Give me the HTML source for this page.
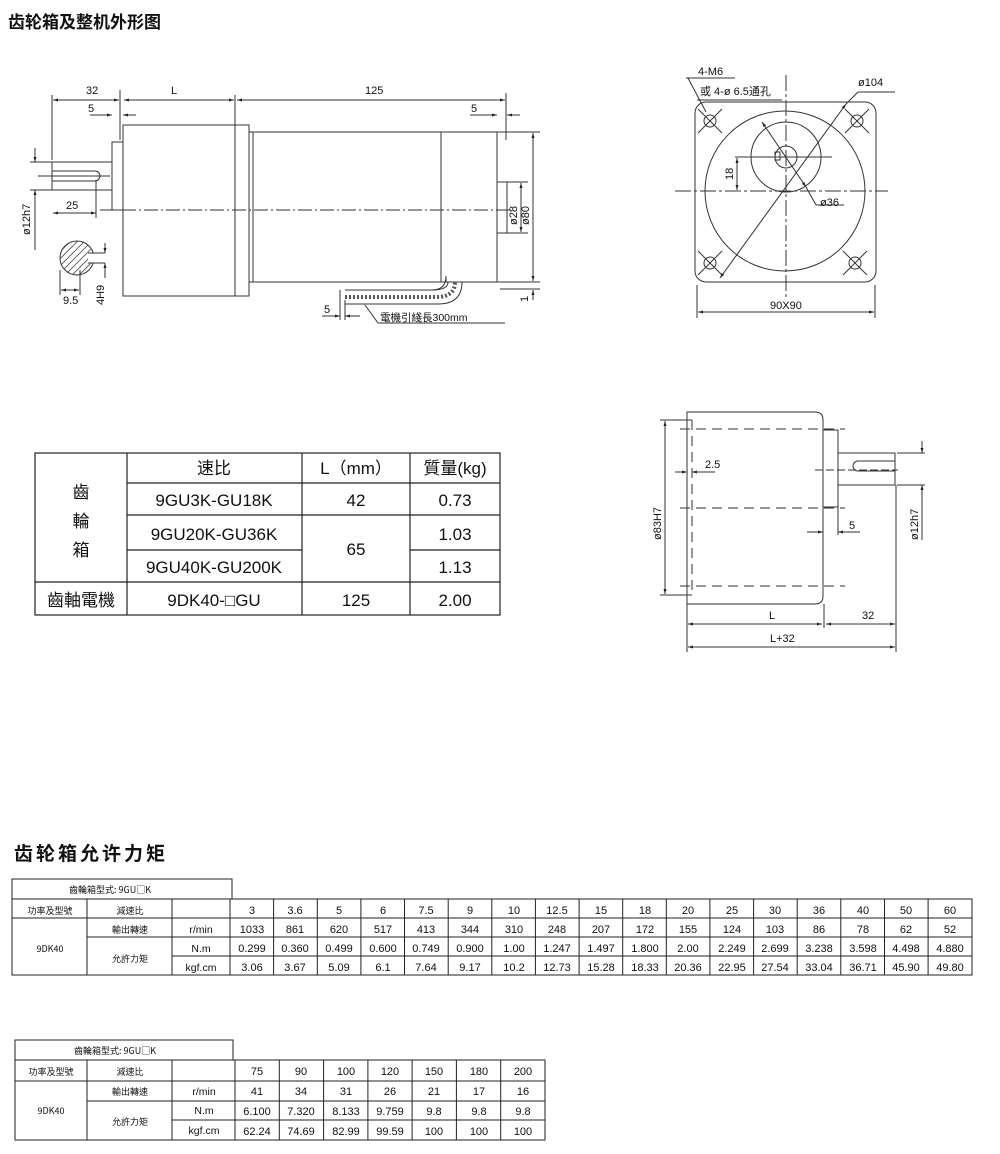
<!DOCTYPE html>
<html><head><meta charset="utf-8"><style>
html,body{margin:0;padding:0;background:#fff;}
svg{display:block;font-family:"Liberation Sans","Noto Sans CJK SC",sans-serif;}
</style></head><body>
<svg width="1000" height="1154" viewBox="0 0 1000 1154" xmlns="http://www.w3.org/2000/svg">
<defs>
<marker id="a" viewBox="0 0 10 10" refX="10" refY="5" markerWidth="7" markerHeight="5" orient="auto-start-reverse"><path d="M0,2 L10,5 L0,8 z" fill="#222"/></marker>
<pattern id="h" width="5" height="5" patternUnits="userSpaceOnUse" patternTransform="rotate(45)"><line x1="0" y1="0" x2="0" y2="5" stroke="#333" stroke-width="1.5"/></pattern>
</defs>
<g fill="#111">
<text x="8" y="28" font-size="17" font-weight="bold" font-family="'Noto Sans CJK SC',sans-serif">齿轮箱及整机外形图</text>
<text x="14" y="860" font-size="19" font-weight="bold" letter-spacing="3" font-family="'Noto Sans CJK SC',sans-serif">齿轮箱允许力矩</text>
</g>

<!-- LEFT DRAWING -->
<g stroke="#333" stroke-width="1" fill="none">
<rect x="123" y="125" width="112" height="171"/>
<rect x="235" y="125" width="14" height="171"/>
<rect x="249" y="132" width="248" height="150"/>
<line x1="253" y1="132" x2="253" y2="282"/>
<line x1="441" y1="132" x2="441" y2="282"/>
<rect x="497" y="182" width="10" height="51"/>
<rect x="112" y="142" width="11" height="68"/>
<rect x="52" y="162" width="60" height="28"/>
<path d="M52,171 H95 A5,5 0 0 1 95,181 H52"/>
<line x1="38" y1="176" x2="110" y2="176"/>
<line x1="100" y1="210" x2="510" y2="210" stroke-dasharray="14,3,2,3"/>
<!-- dims -->
<line x1="52" y1="95" x2="52" y2="160"/><line x1="120" y1="90" x2="120" y2="140"/>
<line x1="235" y1="95" x2="235" y2="125"/><line x1="506" y1="93" x2="506" y2="140"/>
<line x1="53" y1="100" x2="119" y2="100" marker-start="url(#a)" marker-end="url(#a)"/>
<line x1="124" y1="100" x2="234" y2="100" marker-start="url(#a)" marker-end="url(#a)"/>
<line x1="237" y1="100" x2="505" y2="100" marker-start="url(#a)" marker-end="url(#a)"/>
<line x1="90" y1="115" x2="112" y2="115" marker-end="url(#a)"/><line x1="136" y1="115" x2="123" y2="115" marker-end="url(#a)"/>
<line x1="470" y1="115" x2="497" y2="115" marker-end="url(#a)"/><line x1="520" y1="115" x2="507" y2="115" marker-end="url(#a)"/>
<line x1="53" y1="213" x2="96" y2="213" marker-start="url(#a)" marker-end="url(#a)"/>
<line x1="96" y1="180" x2="96" y2="218"/>
<line x1="30" y1="162" x2="52" y2="162"/><line x1="30" y1="190" x2="52" y2="190"/>
<line x1="35" y1="148" x2="35" y2="162" marker-end="url(#a)"/><line x1="35" y1="250" x2="35" y2="190" marker-end="url(#a)"/>
<line x1="507" y1="182" x2="528" y2="182"/><line x1="507" y1="233" x2="528" y2="233"/>
<line x1="521" y1="183" x2="521" y2="232" marker-start="url(#a)" marker-end="url(#a)"/>
<line x1="497" y1="132" x2="540" y2="132"/><line x1="497" y1="282" x2="540" y2="282"/>
<line x1="533" y1="133" x2="533" y2="281" marker-start="url(#a)" marker-end="url(#a)"/>
<line x1="500" y1="289" x2="540" y2="289"/>
<line x1="533" y1="300" x2="533" y2="290" marker-end="url(#a)"/>
<!-- section -->
<circle cx="77" cy="258" r="17" fill="url(#h)"/>
<rect x="88" y="253" width="7" height="10" fill="#fff" stroke="none"/>
<line x1="88" y1="253" x2="105" y2="253"/><line x1="88" y1="263" x2="105" y2="263"/>
<line x1="105" y1="243" x2="105" y2="253" marker-end="url(#a)"/><line x1="105" y1="278" x2="105" y2="263" marker-end="url(#a)"/>
<line x1="60" y1="270" x2="60" y2="295"/><line x1="80" y1="270" x2="80" y2="295"/>
<line x1="61" y1="290" x2="79" y2="290" marker-start="url(#a)" marker-end="url(#a)"/>
<!-- cable -->
<path d="M345,290 H432 Q446,290 446,276 V282" stroke-width="1"/>
<path d="M345,297 H436 Q455,297 455,282" stroke="#555" stroke-width="4" stroke-dasharray="2,2"/>
<path d="M345,304 H438 Q462,304 462,282" />
<path d="M345,290 H432 Q448,290 448,282"/>
<line x1="340" y1="290" x2="340" y2="320"/><line x1="345" y1="300" x2="345" y2="320"/>
<line x1="322" y1="316" x2="340" y2="316" marker-end="url(#a)"/><line x1="360" y1="316" x2="345" y2="316" marker-end="url(#a)"/>
<line x1="365" y1="305" x2="378" y2="323"/><line x1="378" y1="323" x2="505" y2="323"/>
</g>
<g font-size="11" fill="#111">
<text x="86" y="94">32</text><text x="171" y="94">L</text><text x="365" y="94">125</text>
<text x="88" y="112">5</text><text x="471" y="112">5</text>
<text x="66" y="209">25</text>
<text x="63" y="304">9.5</text>
<text transform="translate(30,235) rotate(-90)">ø12h7</text>
<text transform="translate(104,305) rotate(-90)">4H9</text>
<text transform="translate(517,225) rotate(-90)">ø28</text>
<text transform="translate(529,225) rotate(-90)">ø80</text>
<text transform="translate(528,302) rotate(-90)">1</text>
<text x="324" y="313">5</text>
<text x="380" y="321" font-size="10.5">電機引綫長300mm</text>
</g>

<!-- RIGHT TOP -->
<g stroke="#333" stroke-width="1" fill="none">
<rect x="695" y="102" width="181" height="180" rx="11"/>
<circle cx="785" cy="191" r="80"/>
<circle cx="786" cy="157" r="35"/>
<circle cx="786" cy="157" r="11"/>
<rect x="775" y="152" width="5" height="8"/>
<line x1="675" y1="191" x2="888" y2="191" stroke-dasharray="16,3,3,3"/>
<line x1="786" y1="75" x2="786" y2="300" stroke-dasharray="16,3,3,3"/>
<line x1="735" y1="157" x2="832" y2="157"/>
<line x1="737" y1="158" x2="737" y2="190" marker-start="url(#a)" marker-end="url(#a)"/>
<line x1="720" y1="278" x2="846" y2="104" marker-start="url(#a)" marker-end="url(#a)"/>
<line x1="846" y1="104" x2="858" y2="92"/><line x1="858" y1="92" x2="895" y2="92"/>
<line x1="762" y1="122" x2="806" y2="187" marker-start="url(#a)" marker-end="url(#a)"/>
<line x1="806" y1="187" x2="816" y2="205"/><line x1="816" y1="205" x2="844" y2="205"/>
<g id="hole"><circle cx="710" cy="121" r="6"/><line x1="698" y1="109" x2="722" y2="133"/><line x1="722" y1="109" x2="698" y2="133"/></g>
<use href="#hole" x="147"/><use href="#hole" y="142"/><use href="#hole" x="145" y="142"/>
<line x1="686" y1="78" x2="735" y2="78"/><line x1="688" y1="78" x2="706" y2="112"/>
<line x1="697" y1="100" x2="782" y2="100"/>
<line x1="697" y1="285" x2="697" y2="318"/><line x1="875" y1="285" x2="875" y2="318"/>
<line x1="698" y1="312" x2="874" y2="312" marker-start="url(#a)" marker-end="url(#a)"/>
</g>
<g font-size="11" fill="#111">
<text x="698" y="75">4-M6</text>
<text x="700" y="95" font-size="11">或 4-ø 6.5通孔</text>
<text x="858" y="86">ø104</text>
<text x="820" y="206">ø36</text>
<text transform="translate(733,180) rotate(-90)">18</text>
<text x="770" y="309">90X90</text>
</g>

<!-- RIGHT BOTTOM -->
<g stroke="#333" stroke-width="1" fill="none">
<path d="M687,412 H815 Q823,412 823,420 V596 Q823,604 815,604 H687 Z"/>
<rect x="823" y="430" width="15" height="77"/>
<rect x="838" y="453" width="57" height="32"/>
<path d="M895,461 H858 A5,5 0 0 0 858,471 H895"/>
<line x1="815" y1="470" x2="898" y2="470" stroke-dasharray="8,3"/>
<g stroke-dasharray="10,6"><line x1="680" y1="429" x2="845" y2="429"/><line x1="680" y1="508" x2="845" y2="508"/><line x1="680" y1="586" x2="845" y2="586"/><line x1="692" y1="420" x2="692" y2="596"/></g>
<line x1="660" y1="420" x2="692" y2="420"/><line x1="660" y1="595" x2="692" y2="595"/>
<line x1="665" y1="421" x2="665" y2="594" marker-start="url(#a)" marker-end="url(#a)"/>
<line x1="675" y1="472" x2="687" y2="472" marker-end="url(#a)"/><line x1="715" y1="472" x2="692" y2="472" marker-end="url(#a)"/>
<line x1="807" y1="532" x2="823" y2="532" marker-end="url(#a)"/><line x1="860" y1="532" x2="838" y2="532" marker-end="url(#a)"/>
<line x1="838" y1="507" x2="838" y2="535"/>
<line x1="897" y1="453" x2="925" y2="453"/><line x1="897" y1="485" x2="925" y2="485"/>
<line x1="922" y1="441" x2="922" y2="453" marker-end="url(#a)"/><line x1="922" y1="540" x2="922" y2="485" marker-end="url(#a)"/>
<line x1="687" y1="604" x2="687" y2="652"/><line x1="824" y1="604" x2="824" y2="628"/><line x1="896" y1="485" x2="896" y2="652"/>
<line x1="688" y1="624" x2="822" y2="624" marker-start="url(#a)" marker-end="url(#a)"/>
<line x1="826" y1="624" x2="895" y2="624" marker-start="url(#a)" marker-end="url(#a)"/>
<line x1="688" y1="647" x2="895" y2="647" marker-start="url(#a)" marker-end="url(#a)"/>
</g>
<g font-size="11" fill="#111">
<text x="705" y="468">2.5</text><text x="849" y="529">5</text>
<text transform="translate(661,540) rotate(-90)">ø83H7</text>
<text transform="translate(918,540) rotate(-90)">ø12h7</text>
<text x="769" y="619">L</text><text x="862" y="619">32</text><text x="770" y="642">L+32</text>
</g>

<!-- MIDDLE TABLE -->
<g stroke="#222" stroke-width="1.2" fill="none">
<rect x="35" y="453" width="465" height="162"/>
<line x1="127" y1="453" x2="127" y2="615"/>
<line x1="302" y1="453" x2="302" y2="615"/>
<line x1="410" y1="453" x2="410" y2="615"/>
<line x1="127" y1="483" x2="500" y2="483"/>
<line x1="127" y1="515" x2="500" y2="515"/>
<line x1="127" y1="550" x2="302" y2="550"/><line x1="410" y1="550" x2="500" y2="550"/>
<line x1="35" y1="582" x2="500" y2="582"/>
</g>
<g font-size="17" fill="#111" text-anchor="middle">
<text x="214" y="474" font-family="'Noto Sans CJK SC',sans-serif">速比</text>
<text x="356" y="474">L（mm）</text>
<text x="455" y="474">質量(kg)</text>
<text x="81" y="498" font-family="'Noto Sans CJK TC',sans-serif">齒</text>
<text x="81" y="527" font-family="'Noto Sans CJK TC',sans-serif">輪</text>
<text x="81" y="556" font-family="'Noto Sans CJK TC',sans-serif">箱</text>
<text x="214" y="506">9GU3K-GU18K</text><text x="356" y="506">42</text><text x="455" y="506">0.73</text>
<text x="214" y="540">9GU20K-GU36K</text><text x="356" y="555">65</text><text x="455" y="540">1.03</text>
<text x="214" y="573">9GU40K-GU200K</text><text x="455" y="573">1.13</text>
<text x="81" y="606" font-family="'Noto Sans CJK TC',sans-serif">齒軸電機</text>
<text x="214" y="606">9DK40-□GU</text><text x="356" y="606">125</text><text x="455" y="606">2.00</text>
</g>

<!-- TABLE 1 -->
<g stroke="#222" stroke-width="1" fill="none">
<rect x="12" y="879" width="220" height="20"/>
<rect x="12" y="899" width="960" height="76"/>
<line x1="12" y1="918" x2="972" y2="918"/>
<line x1="87" y1="937" x2="972" y2="937"/>
<line x1="172" y1="956" x2="972" y2="956"/>
<line x1="87" y1="899" x2="87" y2="975"/>
<line x1="172" y1="899" x2="172" y2="975"/>
<line x1="230" y1="899" x2="230" y2="975"/>
</g>
<g font-size="9" fill="#111" text-anchor="middle" font-family="'Noto Sans CJK TC',sans-serif">
<text x="110" y="893">齒輪箱型式:  9GU□K</text>
<text x="50" y="914">功率及型號</text><text x="130" y="914">減速比</text>
<text x="130" y="933">輸出轉速</text><text x="130" y="962">允許力矩</text>
<text x="50" y="952">9DK40</text>
</g>
<g font-size="10.5" fill="#111" text-anchor="middle">
<text x="201" y="933">r/min</text><text x="201" y="952">N.m</text><text x="201" y="971">kgf.cm</text>
</g>
<g id="t1" font-size="11" fill="#111" text-anchor="middle"></g>

<!-- TABLE 2 -->
<g stroke="#222" stroke-width="1" fill="none">
<rect x="15" y="1040" width="218" height="20"/>
<rect x="15" y="1060" width="530" height="80"/>
<line x1="15" y1="1081" x2="545" y2="1081"/>
<line x1="87" y1="1101" x2="545" y2="1101"/>
<line x1="172" y1="1120" x2="545" y2="1120"/>
<line x1="87" y1="1060" x2="87" y2="1140"/>
<line x1="172" y1="1060" x2="172" y2="1140"/>
<line x1="235" y1="1060" x2="235" y2="1140"/>
</g>
<g font-size="9" fill="#111" text-anchor="middle" font-family="'Noto Sans CJK TC',sans-serif">
<text x="115" y="1054">齒輪箱型式:  9GU□K</text>
<text x="51" y="1075">功率及型號</text><text x="130" y="1075">減速比</text>
<text x="130" y="1095">輸出轉速</text><text x="130" y="1125">允許力矩</text>
<text x="51" y="1114">9DK40</text>
</g>
<g font-size="10.5" fill="#111" text-anchor="middle">
<text x="204" y="1095">r/min</text><text x="204" y="1114">N.m</text><text x="204" y="1134">kgf.cm</text>
</g>
<g id="t2" font-size="11" fill="#111" text-anchor="middle"></g>

<g stroke="#222" stroke-width="1">
<!-- table1 columns -->
<line x1="273.6" y1="899" x2="273.6" y2="975"/><line x1="317.3" y1="899" x2="317.3" y2="975"/><line x1="360.9" y1="899" x2="360.9" y2="975"/><line x1="404.5" y1="899" x2="404.5" y2="975"/><line x1="448.2" y1="899" x2="448.2" y2="975"/><line x1="491.8" y1="899" x2="491.8" y2="975"/><line x1="535.4" y1="899" x2="535.4" y2="975"/><line x1="579.1" y1="899" x2="579.1" y2="975"/><line x1="622.7" y1="899" x2="622.7" y2="975"/><line x1="666.3" y1="899" x2="666.3" y2="975"/><line x1="709.9" y1="899" x2="709.9" y2="975"/><line x1="753.6" y1="899" x2="753.6" y2="975"/><line x1="797.2" y1="899" x2="797.2" y2="975"/><line x1="840.8" y1="899" x2="840.8" y2="975"/><line x1="884.5" y1="899" x2="884.5" y2="975"/><line x1="928.1" y1="899" x2="928.1" y2="975"/>
<!-- table2 columns -->
<line x1="279.3" y1="1060" x2="279.3" y2="1140"/><line x1="323.6" y1="1060" x2="323.6" y2="1140"/><line x1="367.9" y1="1060" x2="367.9" y2="1140"/><line x1="412.1" y1="1060" x2="412.1" y2="1140"/><line x1="456.4" y1="1060" x2="456.4" y2="1140"/><line x1="500.7" y1="1060" x2="500.7" y2="1140"/>
</g>
<g font-size="11" fill="#111" text-anchor="middle">
<text y="914"><tspan x="252">3</tspan><tspan x="295">3.6</tspan><tspan x="339">5</tspan><tspan x="383">6</tspan><tspan x="426">7.5</tspan><tspan x="470">9</tspan><tspan x="514">10</tspan><tspan x="557">12.5</tspan><tspan x="601">15</tspan><tspan x="645">18</tspan><tspan x="688">20</tspan><tspan x="732">25</tspan><tspan x="775">30</tspan><tspan x="819">36</tspan><tspan x="863">40</tspan><tspan x="906">50</tspan><tspan x="950">60</tspan></text>
<text y="933"><tspan x="252">1033</tspan><tspan x="295">861</tspan><tspan x="339">620</tspan><tspan x="383">517</tspan><tspan x="426">413</tspan><tspan x="470">344</tspan><tspan x="514">310</tspan><tspan x="557">248</tspan><tspan x="601">207</tspan><tspan x="645">172</tspan><tspan x="688">155</tspan><tspan x="732">124</tspan><tspan x="775">103</tspan><tspan x="819">86</tspan><tspan x="863">78</tspan><tspan x="906">62</tspan><tspan x="950">52</tspan></text>
<text y="952"><tspan x="252">0.299</tspan><tspan x="295">0.360</tspan><tspan x="339">0.499</tspan><tspan x="383">0.600</tspan><tspan x="426">0.749</tspan><tspan x="470">0.900</tspan><tspan x="514">1.00</tspan><tspan x="557">1.247</tspan><tspan x="601">1.497</tspan><tspan x="645">1.800</tspan><tspan x="688">2.00</tspan><tspan x="732">2.249</tspan><tspan x="775">2.699</tspan><tspan x="819">3.238</tspan><tspan x="863">3.598</tspan><tspan x="906">4.498</tspan><tspan x="950">4.880</tspan></text>
<text y="971"><tspan x="252">3.06</tspan><tspan x="295">3.67</tspan><tspan x="339">5.09</tspan><tspan x="383">6.1</tspan><tspan x="426">7.64</tspan><tspan x="470">9.17</tspan><tspan x="514">10.2</tspan><tspan x="557">12.73</tspan><tspan x="601">15.28</tspan><tspan x="645">18.33</tspan><tspan x="688">20.36</tspan><tspan x="732">22.95</tspan><tspan x="775">27.54</tspan><tspan x="819">33.04</tspan><tspan x="863">36.71</tspan><tspan x="906">45.90</tspan><tspan x="950">49.80</tspan></text>
<text y="1075"><tspan x="257">75</tspan><tspan x="301">90</tspan><tspan x="346">100</tspan><tspan x="390">120</tspan><tspan x="434">150</tspan><tspan x="479">180</tspan><tspan x="523">200</tspan></text>
<text y="1095"><tspan x="257">41</tspan><tspan x="301">34</tspan><tspan x="346">31</tspan><tspan x="390">26</tspan><tspan x="434">21</tspan><tspan x="479">17</tspan><tspan x="523">16</tspan></text>
<text y="1115"><tspan x="257">6.100</tspan><tspan x="301">7.320</tspan><tspan x="346">8.133</tspan><tspan x="390">9.759</tspan><tspan x="434">9.8</tspan><tspan x="479">9.8</tspan><tspan x="523">9.8</tspan></text>
<text y="1135"><tspan x="257">62.24</tspan><tspan x="301">74.69</tspan><tspan x="346">82.99</tspan><tspan x="390">99.59</tspan><tspan x="434">100</tspan><tspan x="479">100</tspan><tspan x="523">100</tspan></text>
</g>
</svg>
</body></html>
